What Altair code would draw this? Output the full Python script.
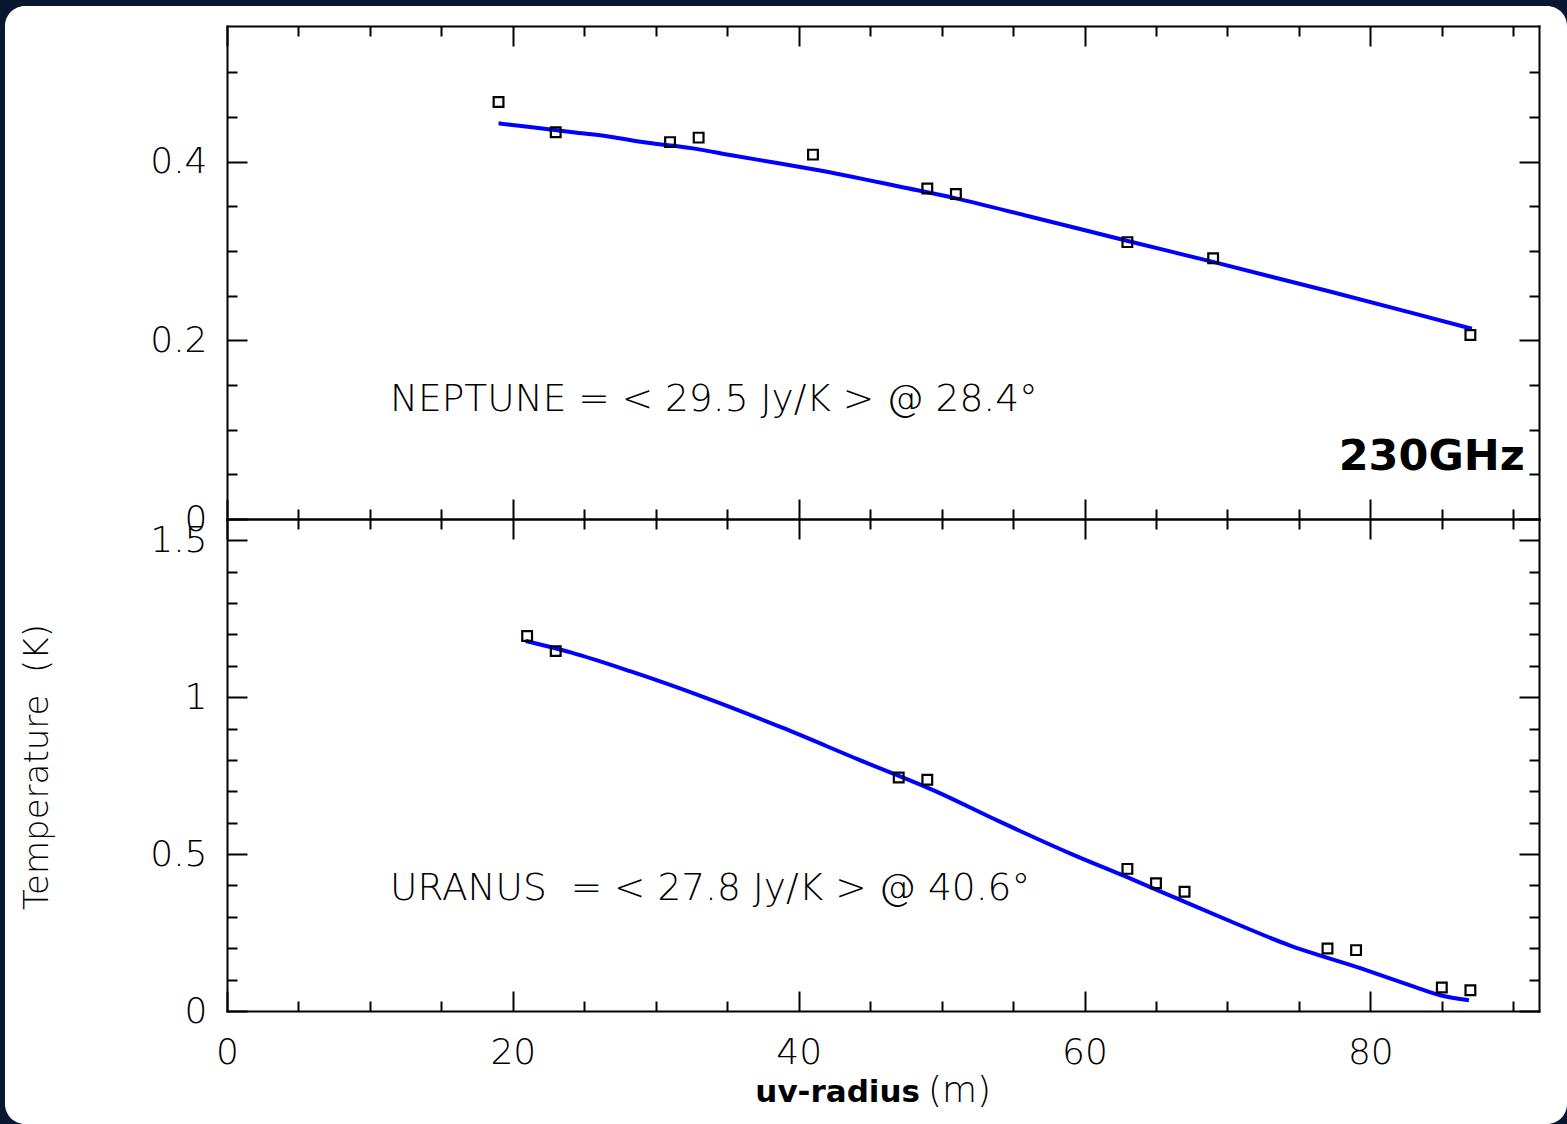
import altair as alt
import pandas as pd

# ---- NEPTUNE (230 GHz): measured temperatures vs uv-radius ----
nep_r = [19, 23, 31, 33, 41, 49, 51, 63, 69, 87]
nep_t = [0.467, 0.433, 0.422, 0.427, 0.408, 0.370, 0.364, 0.310, 0.292, 0.206]
# model curve
nep_fit_r = [19.0, 21.2, 24.2, 26.8, 29.3, 32.6, 35.4, 38.7, 41.2, 44.7, 47.1,
             51.0, 56.1, 63.1, 69.2, 77.1, 83.1, 87.1]
nep_fit_t = [0.443, 0.439, 0.433, 0.428, 0.4215, 0.415, 0.407, 0.398, 0.391, 0.380,
             0.372, 0.359, 0.339, 0.311, 0.287, 0.255, 0.230, 0.213]

# ---- URANUS (230 GHz) ----
ura_r = [21, 23, 47, 49, 63, 65, 67, 77, 79, 85, 87]
ura_t = [1.195, 1.147, 0.744, 0.737, 0.453, 0.407, 0.380, 0.199, 0.194, 0.075, 0.066]
ura_fit_r = [20.9, 24.1, 28.2, 33.5, 38.9, 44.2, 49.6, 54.0, 59.1, 62.9, 66.7,
             70.0, 74.3, 79.4, 83.1, 84.9, 86.9]
ura_fit_t = [1.179, 1.142, 1.083, 0.998, 0.902, 0.801, 0.700, 0.605, 0.500, 0.428,
             0.354, 0.290, 0.210, 0.135, 0.077, 0.050, 0.034]

nep_label = "NEPTUNE = < 29.5 Jy/K > @ 28.4°"
# non-breaking spaces keep the "=" lined up with the row above
ura_label = "URANUS\u00a0\u00a0= < 27.8 Jy/K > @ 40.6°"
band_label = "230GHz"

# tick positions
x_major = [0, 20, 40, 60, 80]
x_minor = [5, 10, 15, 25, 30, 35, 45, 50, 55, 65, 70, 75, 85, 90]
top_y_major = [0, 0.2, 0.4]
top_y_minor = [0.05, 0.1, 0.15, 0.25, 0.3, 0.35, 0.45, 0.5]
bot_y_major = [0, 0.5, 1, 1.5]
bot_y_minor = [0.1, 0.2, 0.3, 0.4, 0.6, 0.7, 0.8, 0.9, 1.1, 1.2, 1.3, 1.4]

W = 1312
H_TOP = 493
H_BOT = 492
TICK_FONT = "DejaVu Sans"
INK = "#000000"

xs = alt.Scale(domain=[0, 91.8], nice=False, zero=False)
ys_top = alt.Scale(domain=[0, 0.552], nice=False, zero=False)
ys_bot = alt.Scale(domain=[0, 1.568], nice=False, zero=False)


def X(field, axis=None):
    return alt.X(field, type="quantitative", scale=xs, axis=axis)


def Y(field, ys, axis=None):
    return alt.Y(field, type="quantitative", scale=ys, axis=axis)


def tick_axis(channel, ys, orient, values, length, labels=False, pad=20):
    # inward-pointing ticks: the axis is pulled inside the frame by its tick length
    ax = alt.Axis(orient=orient, values=values, tickSize=length, offset=-length,
                  ticks=True, labels=labels, labelPadding=pad, domain=False,
                  grid=False, title=None, tickColor="black", tickWidth=2,
                  labelFlush=False, labelOverlap=False, labelFont=TICK_FONT,
                  labelFontSize=36, labelFontWeight=200, labelColor=INK,
                  format="~r", zindex=1)
    df = pd.DataFrame({"v": values, "z": [0] * len(values)})
    if channel == "x":
        e = dict(x=X("v", ax), y=Y("z", ys))
    else:
        e = dict(x=X("z"), y=Y("v", ys, ax))
    return alt.Chart(df).mark_point(opacity=0).encode(**e)


def frame_axis(channel, ys, orient):
    ax = alt.Axis(orient=orient, domain=True, domainColor="black", domainWidth=2,
                  domainCap="square", ticks=False, labels=False, grid=False,
                  title=None, zindex=1)
    df = pd.DataFrame({"v": [0], "z": [0]})
    if channel == "x":
        e = dict(x=X("v", ax), y=Y("z", ys))
    else:
        e = dict(x=X("z"), y=Y("v", ys, ax))
    return alt.Chart(df).mark_point(opacity=0).encode(**e)


def axes_for(ys, y_major, y_minor, x_labels):
    layers = []
    for o in ["left", "right"]:
        layers.append(frame_axis("y", ys, o))
        layers.append(tick_axis("y", ys, o, y_major, 20, labels=(o == "left"), pad=20))
        layers.append(tick_axis("y", ys, o, y_minor, 10))
    for o in ["top", "bottom"]:
        layers.append(frame_axis("x", ys, o))
        layers.append(tick_axis("x", ys, o, x_major, 20, labels=(x_labels and o == "bottom"), pad=24))
        layers.append(tick_axis("x", ys, o, x_minor, 10))
    return layers


def series(r, t, fr, ft, ys):
    pts = pd.DataFrame({"r": r, "t": t})
    fit = pd.DataFrame({"r": fr, "t": ft})
    line = alt.Chart(fit).mark_line(color="#0000ff", strokeWidth=4, interpolate="monotone").encode(
        x=X("r"), y=Y("t", ys))
    marks = alt.Chart(pts).mark_point(shape="square", filled=False, size=95, color="black",
                                      strokeWidth=2.2, opacity=1).encode(
        x=X("r"), y=Y("t", ys))
    return line, marks


def note(x, y, s, ys, **style):
    df = pd.DataFrame({"x": [x], "y": [y], "s": [s]})
    return alt.Chart(df).mark_text(**style).encode(x=X("x"), y=Y("y", ys), text="s:N")


# white card behind the plots
card_df = pd.DataFrame({"x": [0], "y": [0]})
card = alt.Chart(card_df).mark_rect(fill="white", cornerRadius=20).encode(
    x=alt.value(-222), x2=alt.value(1340), y=alt.value(-20), y2=alt.value(1098))

nep_line, nep_pts = series(nep_r, nep_t, nep_fit_r, nep_fit_t, ys_top)
ura_line, ura_pts = series(ura_r, ura_t, ura_fit_r, ura_fit_t, ys_bot)

nep_note = note(11.4, 0.121, nep_label, ys_top, align="left", baseline="alphabetic",
                font=TICK_FONT, fontWeight=200, fontSize=37.5, color=INK)
band = note(90.8, 0.0544, band_label, ys_top, align="right", baseline="alphabetic",
            font="DejaVu Sans", fontWeight="bold", fontSize=43, color="black")
ura_note = note(11.4, 0.354, ura_label, ys_bot, align="left", baseline="alphabetic",
                font=TICK_FONT, fontWeight=200, fontSize=37.5, color=INK)

title_df = pd.DataFrame({"x": [0], "y": [0]})
y_title = alt.Chart(title_df).mark_text(angle=270, align="center", baseline="middle",
                                        font=TICK_FONT, fontSize=34, fontWeight=200,
                                        color=INK, text="Temperature\u00a0\u00a0(K)").encode(
    x=alt.value(-189), y=alt.value(248))
x_title_bold = alt.Chart(title_df).mark_text(align="right", baseline="alphabetic",
                                             font="DejaVu Sans", fontWeight="bold",
                                             fontSize=31, color="black", text="uv-radius").encode(
    x=alt.value(693), y=alt.value(583))
x_title_unit = alt.Chart(title_df).mark_text(align="left", baseline="alphabetic",
                                             font=TICK_FONT, fontSize=36, fontWeight=200,
                                             color=INK, text="(m)").encode(
    x=alt.value(701), y=alt.value(583))

top = alt.layer(
    card, nep_line, nep_pts, nep_note, band,
    *axes_for(ys_top, top_y_major, top_y_minor, x_labels=False)
).resolve_axis(x="independent", y="independent").properties(width=W, height=H_TOP)

bottom = alt.layer(
    ura_line, ura_pts, ura_note, y_title, x_title_bold, x_title_unit,
    *axes_for(ys_bot, bot_y_major, bot_y_minor, x_labels=True)
).resolve_axis(x="independent", y="independent").properties(width=W, height=H_BOT)

chart = alt.vconcat(top, bottom, spacing=0, bounds="flush").properties(
    padding={"left": 5, "top": 6, "right": 0, "bottom": 0},
    background="#0a1730",
).configure_view(strokeWidth=0)

chart.save("out.html", embed_options={"renderer": "svg", "actions": False})
